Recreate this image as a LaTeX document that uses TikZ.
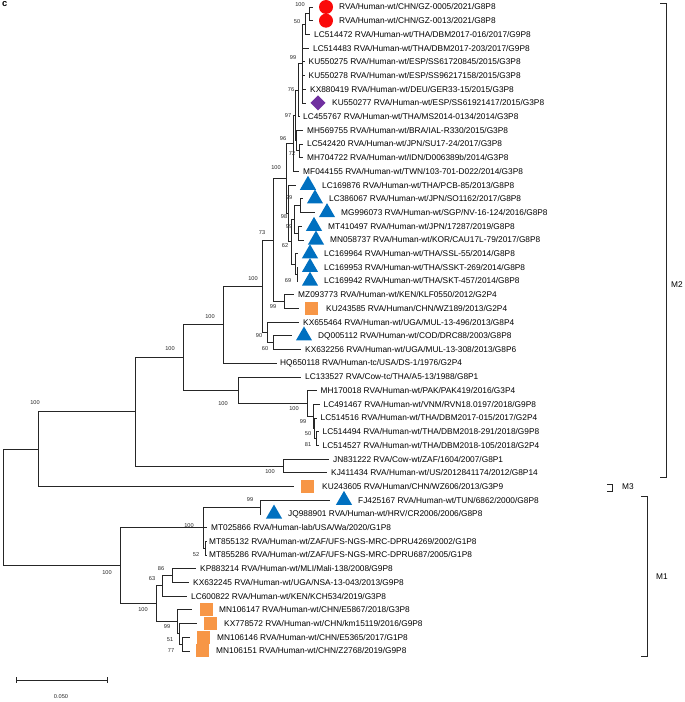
\documentclass[tikz,border=0pt]{standalone}
\usepackage{fontspec}
\setmainfont{Liberation Sans}
\usepackage{xcolor}
\usetikzlibrary{shapes.geometric}

\definecolor{circred}{RGB}{250,10,10}
\definecolor{diampurple}{RGB}{112,48,160}
\definecolor{triblue}{RGB}{0,112,192}
\definecolor{sqorange}{RGB}{247,150,70}

\tikzset{
  branch/.style={draw=black!85, line width=0.6pt},
  taxon/.style={anchor=west, inner sep=0pt, font=\fontsize{7.1}{8}\selectfont},
  boot/.style={inner sep=0pt, font=\fontsize{4.8}{6}\selectfont, text=black!85},
  reddot/.style={circle, fill=circred, minimum size=0.42cm, inner sep=0pt},
  purplediam/.style={diamond, fill=diampurple, minimum size=0.46cm, inner sep=0pt},
  bluetri/.style={regular polygon, regular polygon sides=3, fill=triblue, minimum size=0.56cm, inner sep=0pt},
  orangesq/.style={rectangle, fill=sqorange, minimum size=0.39cm, inner sep=0pt},
  cladename/.style={inner sep=0pt, font=\fontsize{7.1}{8}\selectfont}
}

\begin{document}
\begin{tikzpicture}[x=0.03cm, y=-0.03cm]
\useasboundingbox (0,0) rectangle (685,702);
\node[anchor=north west, inner sep=0pt, font=\fontsize{8}{9}\selectfont\bfseries] (panel) at (2,1) {c};

% leaf tips
\coordinate (l1) at (313,7.0);
\coordinate (l2) at (313,20.7);
\coordinate (l3) at (310,34.4);
\coordinate (l4) at (309,48.1);
\coordinate (l5) at (305,61.8);
\coordinate (l6) at (305,75.5);
\coordinate (l7) at (306,89.2);
\coordinate (l8) at (306,102.9);
\coordinate (l9) at (300,116.6);
\coordinate (l10) at (303,130.3);
\coordinate (l11) at (303,144.0);
\coordinate (l12) at (303,157.7);
\coordinate (l13) at (299,171.4);
\coordinate (l14) at (296,185.1);
\coordinate (l15) at (303,198.8);
\coordinate (l16) at (315,212.5);
\coordinate (l17) at (302,226.2);
\coordinate (l18) at (304,239.9);
\coordinate (l19) at (298,253.6);
\coordinate (l20) at (298,267.3);
\coordinate (l21) at (298,281.0);
\coordinate (l22) at (294,294.7);
\coordinate (l23) at (299,308.4);
\coordinate (l24) at (299,322.1);
\coordinate (l25) at (292,335.8);
\coordinate (l26) at (301,349.5);
\coordinate (l27) at (277,363.2);
\coordinate (l28) at (301,376.9);
\coordinate (l29) at (317,390.6);
\coordinate (l30) at (320,404.3);
\coordinate (l31) at (317,418.0);
\coordinate (l32) at (319,431.7);
\coordinate (l33) at (319,445.4);
\coordinate (l34) at (329,459.1);
\coordinate (l35) at (327,472.8);
\coordinate (l36) at (294,486.5);
\coordinate (l37) at (330,500.2);
\coordinate (l38) at (261,513.9);
\coordinate (l39) at (207,527.6);
\coordinate (l40) at (206.5,541.3);
\coordinate (l41) at (206.5,555.0);
\coordinate (l42) at (196,568.7);
\coordinate (l43) at (189,582.4);
\coordinate (l44) at (187,596.1);
\coordinate (l45) at (192,609.8);
\coordinate (l46) at (197,623.5);
\coordinate (l47) at (190,637.2);
\coordinate (l48) at (190,650.9);

% inner nodes
\coordinate (c1) at (309,13.85);
\coordinate (c2) at (305,24.1);
\coordinate (c3) at (302,63.5);
\coordinate (c5) at (298,90.05);
\coordinate (c8) at (299,150.85);
\coordinate (c7) at (296.5,140.6);
\coordinate (c6) at (295,115.3);
\coordinate (c9) at (293,143.35);
\coordinate (t1) at (300,205.65);
\coordinate (t2) at (298,233.05);
\coordinate (t3) at (294,219.35);
\coordinate (t5) at (297,274.15);
\coordinate (t4) at (295,263.9);
\coordinate (t6) at (291,241.6);
\coordinate (t8) at (288,213.35);
\coordinate (c10) at (286,178.35);
\coordinate (c12) at (284,301.55);
\coordinate (c11) at (273,239.95);
\coordinate (k1) at (273,342.65);
\coordinate (kg) at (267,332.4);
\coordinate (n268) at (262,286.2);
\coordinate (X) at (223,324.7);
\coordinate (R3) at (316,438.55);
\coordinate (R2) at (314.5,428.3);
\coordinate (R) at (313,416.3);
\coordinate (Q) at (307,403.45);
\coordinate (P) at (238,390.2);
\coordinate (U2) at (183,357.45);
\coordinate (JK) at (283,465.95);
\coordinate (S) at (135,411.7);
\coordinate (N38) at (38,449.1);
\coordinate (ma) at (260,507.05);
\coordinate (mc) at (205.5,548.15);
\coordinate (mb) at (203,527.6);
\coordinate (md) at (172,575.55);
\coordinate (me) at (162,585.8);
\coordinate (mg) at (182,644.05);
\coordinate (mf2) at (179,633.8);
\coordinate (mf) at (177,621.8);
\coordinate (mh) at (156,603.8);
\coordinate (mi) at (120,565.7);
\coordinate (R0) at (3,507.4);

% branches
\draw[branch] (c1) |- (l1) (c1) |- (l2);
\draw[branch] (c2) |- (c1) (c2) |- (l3);
\draw[branch] (c3) |- (c2) (c3) |- (l4) (c3) |- (l5) (c3) |- (l6) (c3) |- (l7) (c3) |- (l8);
\draw[branch] (c5) |- (c3) (c5) |- (l9);
\draw[branch] (c8) |- (l11) (c8) |- (l12);
\draw[branch] (c7) |- (l10) (c7) |- (c8);
\draw[branch] (c6) |- (c5) (c6) |- (c7);
\draw[branch] (c9) |- (c6) (c9) |- (l13);
\draw[branch] (t1) |- (l15) (t1) |- (l16);
\draw[branch] (t2) |- (l17) (t2) |- (l18);
\draw[branch] (t3) |- (t1) (t3) |- (t2);
\draw[branch] (t5) |- (l20) (t5) |- (l21);
\draw[branch] (t4) |- (l19) (t4) |- (t5);
\draw[branch] (t6) |- (t3) (t6) |- (t4);
\draw[branch] (t8) |- (l14) (t8) |- (t6);
\draw[branch] (c10) |- (c9) (c10) |- (t8);
\draw[branch] (c12) |- (l22) (c12) |- (l23);
\draw[branch] (c11) |- (c10) (c11) |- (c12);
\draw[branch] (k1) |- (l25) (k1) |- (l26);
\draw[branch] (kg) |- (l24) (kg) |- (k1);
\draw[branch] (n268) |- (c11) (n268) |- (kg);
\draw[branch] (X) |- (n268) (X) |- (l27);
\draw[branch] (R3) |- (l32) (R3) |- (l33);
\draw[branch] (R2) |- (l31) (R2) |- (R3);
\draw[branch] (R) |- (l30) (R) |- (R2);
\draw[branch] (Q) |- (l29) (Q) |- (R);
\draw[branch] (P) |- (l28) (P) |- (Q);
\draw[branch] (U2) |- (X) (U2) |- (P);
\draw[branch] (JK) |- (l34) (JK) |- (l35);
\draw[branch] (S) |- (U2) (S) |- (JK);
\draw[branch] (N38) |- (S) (N38) |- (l36);
\draw[branch] (ma) |- (l37) (ma) |- (l38);
\draw[branch] (mc) |- (l40) (mc) |- (l41);
\draw[branch] (mb) |- (ma) (mb) |- (l39) (mb) |- (mc);
\draw[branch] (md) |- (l42) (md) |- (l43);
\draw[branch] (me) |- (md) (me) |- (l44);
\draw[branch] (mg) |- (l47) (mg) |- (l48);
\draw[branch] (mf2) |- (l46) (mf2) |- (mg);
\draw[branch] (mf) |- (l45) (mf) |- (mf2);
\draw[branch] (mh) |- (me) (mh) |- (mf);
\draw[branch] (mi) |- (mb) (mi) |- (mh);
\draw[branch] (R0) |- (N38) (R0) |- (mi);

% markers
\node[reddot] (m1) at (326,7.0) {};
\node[reddot] (m2) at (326,20.7) {};
\node[purplediam] (m8) at (318,102.9) {};
\node[bluetri] (m14) at (308,185.1) {};
\node[bluetri] (m15) at (315,198.8) {};
\node[bluetri] (m16) at (327,212.5) {};
\node[bluetri] (m17) at (314,226.2) {};
\node[bluetri] (m18) at (316,239.9) {};
\node[bluetri] (m19) at (310,253.6) {};
\node[bluetri] (m20) at (310,267.3) {};
\node[bluetri] (m21) at (310,281.0) {};
\node[orangesq] (m23) at (311,308.4) {};
\node[bluetri] (m25) at (304,335.8) {};
\node[orangesq] (m36) at (307,486.5) {};
\node[bluetri] (m37) at (344,500.2) {};
\node[bluetri] (m38) at (274,513.9) {};
\node[orangesq] (m45) at (206,609.8) {};
\node[orangesq] (m46) at (210,623.5) {};
\node[orangesq] (m47) at (203,637.2) {};
\node[orangesq] (m48) at (202,650.9) {};

% taxa
\node[taxon] (s1) at (339,7.0) {RVA/Human-wt/CHN/GZ-0005/2021/G8P8};
\node[taxon] (s2) at (339,20.7) {RVA/Human-wt/CHN/GZ-0013/2021/G8P8};
\node[taxon] (s3) at (314,34.4) {LC514472 RVA/Human-wt/THA/DBM2017-016/2017/G9P8};
\node[taxon] (s4) at (313,48.1) {LC514483 RVA/Human-wt/THA/DBM2017-203/2017/G9P8};
\node[taxon] (s5) at (308.5,61.8) {KU550275 RVA/Human-wt/ESP/SS61720845/2015/G3P8};
\node[taxon] (s6) at (308.5,75.5) {KU550278 RVA/Human-wt/ESP/SS96217158/2015/G3P8};
\node[taxon] (s7) at (310,89.2) {KX880419 RVA/Human-wt/DEU/GER33-15/2015/G3P8};
\node[taxon] (s8) at (332,102.9) {KU550277 RVA/Human-wt/ESP/SS61921417/2015/G3P8};
\node[taxon] (s9) at (303,116.6) {LC455767 RVA/Human-wt/THA/MS2014-0134/2014/G3P8};
\node[taxon] (s10) at (307,130.3) {MH569755 RVA/Human-wt/BRA/IAL-R330/2015/G3P8};
\node[taxon] (s11) at (307,144.0) {LC542420 RVA/Human-wt/JPN/SU17-24/2017/G3P8};
\node[taxon] (s12) at (307,157.7) {MH704722 RVA/Human-wt/IDN/D006389b/2014/G3P8};
\node[taxon] (s13) at (303,171.4) {MF044155 RVA/Human-wt/TWN/103-701-D022/2014/G3P8};
\node[taxon] (s14) at (322,185.1) {LC169876 RVA/Human-wt/THA/PCB-85/2013/G8P8};
\node[taxon] (s15) at (329,198.8) {LC386067 RVA/Human-wt/JPN/SO1162/2017/G8P8};
\node[taxon] (s16) at (341,212.5) {MG996073 RVA/Human-wt/SGP/NV-16-124/2016/G8P8};
\node[taxon] (s17) at (328,226.2) {MT410497 RVA/Human-wt/JPN/17287/2019/G8P8};
\node[taxon] (s18) at (330,239.9) {MN058737 RVA/Human-wt/KOR/CAU17L-79/2017/G8P8};
\node[taxon] (s19) at (324,253.6) {LC169964 RVA/Human-wt/THA/SSL-55/2014/G8P8};
\node[taxon] (s20) at (324,267.3) {LC169953 RVA/Human-wt/THA/SSKT-269/2014/G8P8};
\node[taxon] (s21) at (324,281.0) {LC169942 RVA/Human-wt/THA/SKT-457/2014/G8P8};
\node[taxon] (s22) at (298,294.7) {MZ093773 RVA/Human-wt/KEN/KLF0550/2012/G2P4};
\node[taxon] (s23) at (326,308.4) {KU243585 RVA/Human/CHN/WZ189/2013/G2P4};
\node[taxon] (s24) at (303,322.1) {KX655464 RVA/Human-wt/UGA/MUL-13-496/2013/G8P4};
\node[taxon] (s25) at (318,335.8) {DQ005112 RVA/Human-wt/COD/DRC88/2003/G8P8};
\node[taxon] (s26) at (305,349.5) {KX632256 RVA/Human-wt/UGA/MUL-13-308/2013/G8P6};
\node[taxon] (s27) at (280,363.2) {HQ650118 RVA/Human-tc/USA/DS-1/1976/G2P4};
\node[taxon] (s28) at (305,376.9) {LC133527 RVA/Cow-tc/THA/A5-13/1988/G8P1};
\node[taxon] (s29) at (320.5,390.6) {MH170018 RVA/Human-wt/PAK/PAK419/2016/G3P4};
\node[taxon] (s30) at (323.5,404.3) {LC491467 RVA/Human-wt/VNM/RVN18.0197/2018/G9P8};
\node[taxon] (s31) at (320.5,418.0) {LC514516 RVA/Human-wt/THA/DBM2017-015/2017/G2P4};
\node[taxon] (s32) at (322.5,431.7) {LC514494 RVA/Human-wt/THA/DBM2018-291/2018/G9P8};
\node[taxon] (s33) at (322.5,445.4) {LC514527 RVA/Human-wt/THA/DBM2018-105/2018/G2P4};
\node[taxon] (s34) at (333,459.1) {JN831222 RVA/Cow-wt/ZAF/1604/2007/G8P1};
\node[taxon] (s35) at (331,472.8) {KJ411434 RVA/Human-wt/US/2012841174/2012/G8P14};
\node[taxon] (s36) at (322,486.5) {KU243605 RVA/Human/CHN/WZ606/2013/G3P9};
\node[taxon] (s37) at (358,500.2) {FJ425167 RVA/Human-wt/TUN/6862/2000/G8P8};
\node[taxon] (s38) at (288,513.9) {JQ988901 RVA/Human-wt/HRV/CR2006/2006/G8P8};
\node[taxon] (s39) at (211,527.6) {MT025866 RVA/Human-lab/USA/Wa/2020/G1P8};
\node[taxon] (s40) at (209,541.3) {MT855132 RVA/Human-wt/ZAF/UFS-NGS-MRC-DPRU4269/2002/G1P8};
\node[taxon] (s41) at (209,555.0) {MT855286 RVA/Human-wt/ZAF/UFS-NGS-MRC-DPRU687/2005/G1P8};
\node[taxon] (s42) at (200,568.7) {KP883214 RVA/Human-wt/MLI/Mali-138/2008/G9P8};
\node[taxon] (s43) at (193,582.4) {KX632245 RVA/Human-wt/UGA/NSA-13-043/2013/G9P8};
\node[taxon] (s44) at (191,596.1) {LC600822 RVA/Human-wt/KEN/KCH534/2019/G3P8};
\node[taxon] (s45) at (219,609.8) {MN106147 RVA/Human-wt/CHN/E5867/2018/G3P8};
\node[taxon] (s46) at (224,623.5) {KX778572 RVA/Human-wt/CHN/km15119/2016/G9P8};
\node[taxon] (s47) at (217,637.2) {MN106146 RVA/Human-wt/CHN/E5365/2017/G1P8};
\node[taxon] (s48) at (216,650.9) {MN106151 RVA/Human-wt/CHN/Z2768/2019/G9P8};

% bootstrap values
\node[boot] (b1) at (300,5) {100};
\node[boot] (b2) at (297,22) {50};
\node[boot] (b3) at (293,58) {99};
\node[boot] (b5) at (291,90) {76};
\node[boot] (b6) at (288,116) {97};
\node[boot] (b7) at (283,139) {96};
\node[boot] (b8) at (292,154) {72};
\node[boot] (b10) at (276,168) {100};
\node[boot] (bt1) at (289,198) {99};
\node[boot] (bt3) at (284,217) {98};
\node[boot] (bt2) at (289,227) {99};
\node[boot] (b11) at (262,233) {73};
\node[boot] (bt6) at (285,246) {62};
\node[boot] (bt5) at (288,281) {69};
\node[boot] (bn) at (253,279) {100};
\node[boot] (b12) at (273,307) {99};
\node[boot] (bx) at (210,317) {100};
\node[boot] (bkg) at (259,336) {90};
\node[boot] (bk1) at (265,349) {60};
\node[boot] (bu) at (170,349) {100};
\node[boot] (bp) at (223,404) {100};
\node[boot] (bq) at (294,409) {100};
\node[boot] (br) at (303,422) {99};
\node[boot] (br2) at (308,434) {50};
\node[boot] (br3) at (308,445) {81};
\node[boot] (bjk) at (270,472) {100};
\node[boot] (bs) at (35,403) {100};
\node[boot] (bma) at (250,500) {99};
\node[boot] (bmb) at (189,526) {100};
\node[boot] (bmc) at (196,555) {52};
\node[boot] (bmd) at (161,569) {86};
\node[boot] (bme) at (152,579) {63};
\node[boot] (bmi) at (107,573) {100};
\node[boot] (bmh) at (143,610) {100};
\node[boot] (bmf) at (167,627) {99};
\node[boot] (bmf2) at (170,640) {51};
\node[boot] (bmg) at (171,651) {77};

% lineage brackets
\draw[branch] (660,3) -| (666,477) -- (660,477);
\node[cladename] (M2) at (677,285) {M2};
\draw[branch] (607,484) -| (612,491) -- (607,491);
\node[cladename] (M3) at (628,487) {M3};
\draw[branch] (641,496) -| (647,656) -- (641,656);
\node[cladename] (M1) at (662,577) {M1};

% scale
\coordinate (sc1) at (16,680);
\coordinate (sc2) at (107,680);
\draw[branch] (sc1) -- (sc2);
\draw[branch] ([yshift=0.09cm]sc1) -- ([yshift=-0.09cm]sc1);
\draw[branch] ([yshift=0.09cm]sc2) -- ([yshift=-0.09cm]sc2);
\node[boot] (scl) at (61,697) {0.050};
\end{tikzpicture}
\end{document}
